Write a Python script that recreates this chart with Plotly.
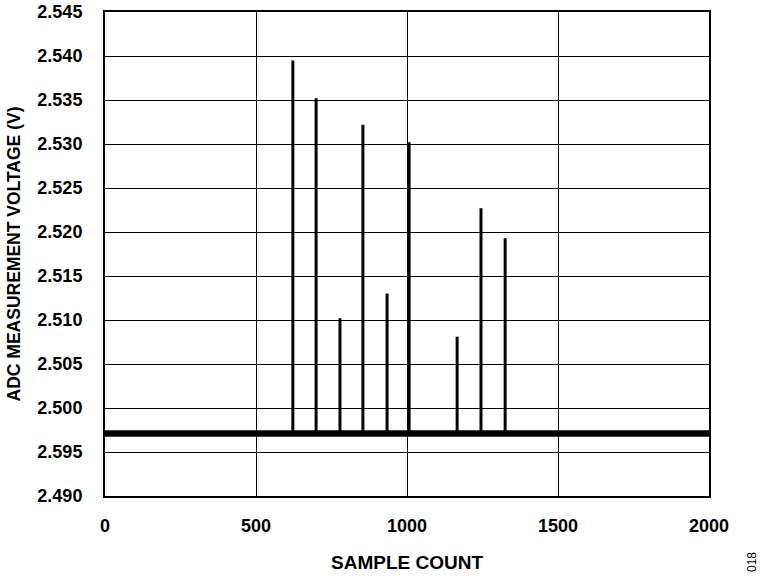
import plotly.graph_objects as go

# ---- data ----
baseline_v = 2.4971            # noisy baseline level (V)
sample_range = [0, 2000]
spike_samples = [622, 699, 778, 854, 934, 1007, 1166, 1245, 1325]
spike_values = [2.5395, 2.5352, 2.5102, 2.5322, 2.5130, 2.5302, 2.5081, 2.5227, 2.5193]
y_tickvals = [2.490, 2.495, 2.500, 2.505, 2.510, 2.515, 2.520, 2.525, 2.530, 2.535, 2.540, 2.545]
y_ticktext = ["2.490", "2.595", "2.500", "2.505", "2.510", "2.515", "2.520", "2.525",
              "2.530", "2.535", "2.540", "2.545"]
x_tickvals = [0, 500, 1000, 1500, 2000]

FONT = "Liberation Sans, Arial, sans-serif"

# spikes as vertical segments from baseline to peak
sx, sy = [], []
for s, v in zip(spike_samples, spike_values):
    sx += [s, s, None]
    sy += [baseline_v, v, None]

fig = go.Figure()
fig.add_trace(go.Scatter(x=sample_range, y=[baseline_v, baseline_v], mode="lines",
                         line=dict(color="black", width=6.5), hoverinfo="skip"))
fig.add_trace(go.Scatter(x=sx, y=sy, mode="lines",
                         line=dict(color="black", width=3), hoverinfo="skip"))

tick_font = dict(family=FONT, size=18, color="black", weight="bold")
fig.update_layout(
    width=760, height=578,
    margin=dict(l=105, r=51, t=12, b=82),
    paper_bgcolor="white", plot_bgcolor="white",
    showlegend=False,
    xaxis=dict(range=[0, 2000], tickvals=x_tickvals, showgrid=True, gridcolor="black",
               gridwidth=1.2, zeroline=False, showline=True, linecolor="black", linewidth=2,
               mirror=True, ticks="", tickfont=tick_font, ticklabelstandoff=12,
               automargin=False,
               title=dict(text="SAMPLE COUNT", standoff=21,
                          font=dict(family=FONT, size=19, color="black", weight="bold"))),
    yaxis=dict(range=[2.490, 2.545], tickvals=y_tickvals, ticktext=y_ticktext, showgrid=True,
               gridcolor="black", gridwidth=1.2, zeroline=False, showline=True,
               linecolor="black", linewidth=2, mirror=True, ticks="", tickfont=tick_font,
               ticklabelstandoff=17, automargin=False,
               title=dict(text="ADC MEASUREMENT VOLTAGE (V)", standoff=12,
                          font=dict(family=FONT, size=17.5, color="black", weight="bold"))),
)
fig.add_annotation(text="018", xref="paper", yref="paper", x=1.0, y=0.0, xshift=43, yshift=-66,
                   xanchor="center", yanchor="middle",
                   textangle=-90, showarrow=False,
                   font=dict(family=FONT, size=12, color="black"))

fig.write_html("out.html", config={"displayModeBar": False},
               post_script="document.body.style.margin='0';")
